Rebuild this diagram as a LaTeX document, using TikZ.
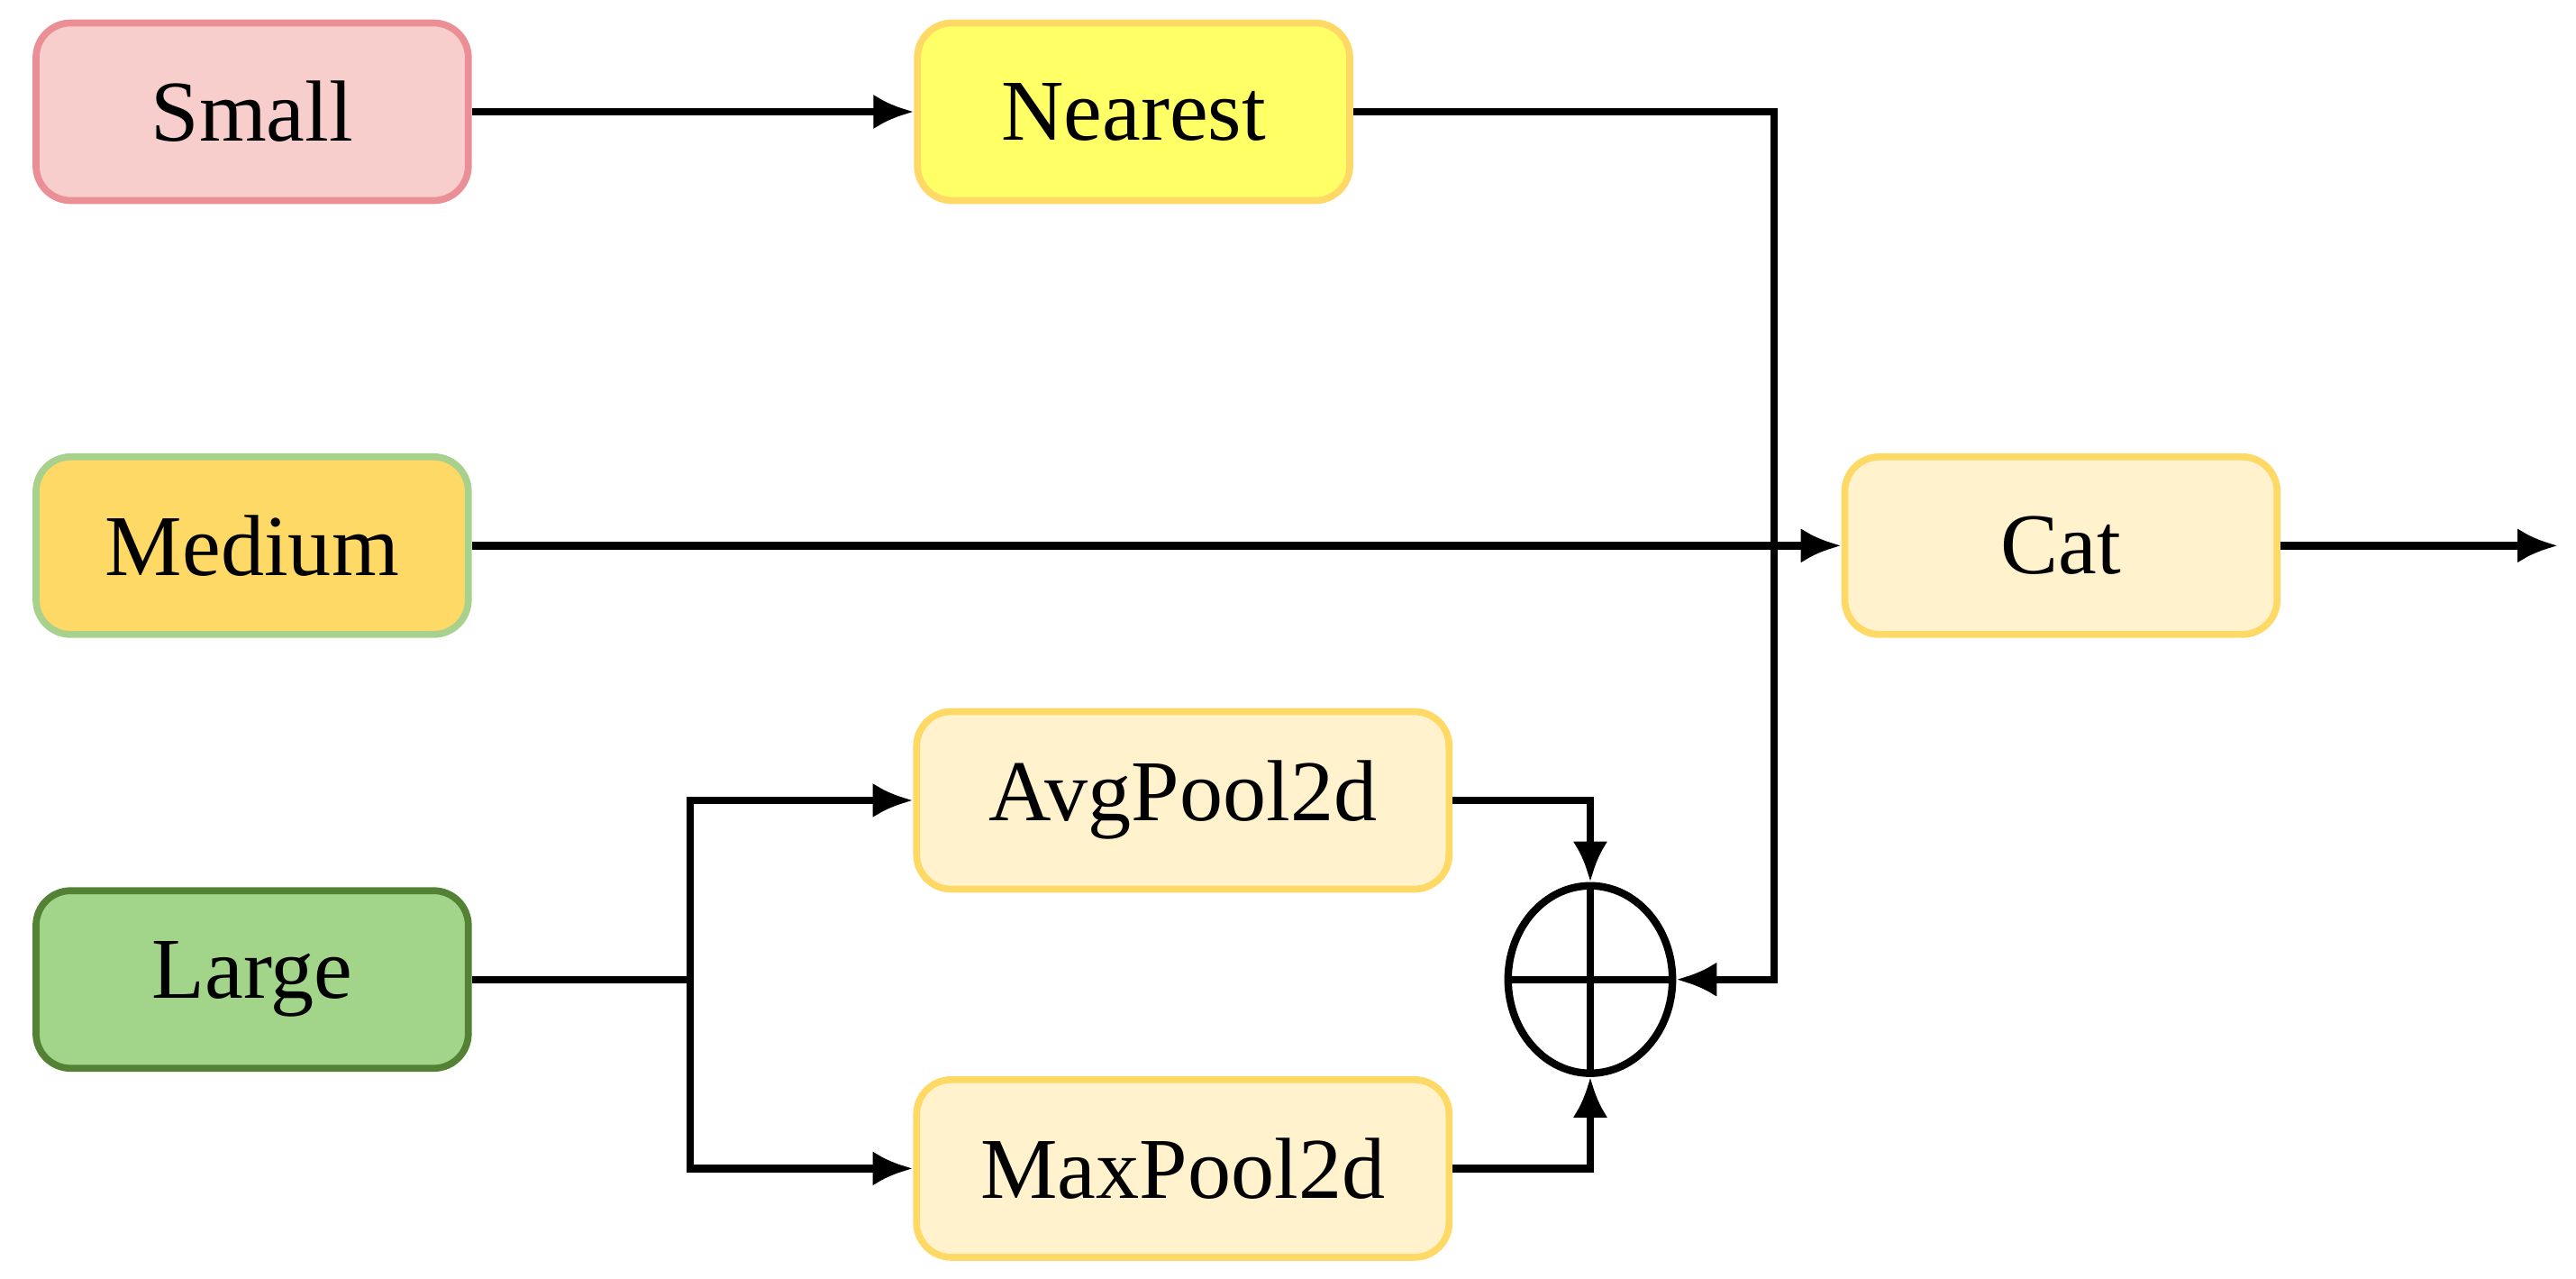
\documentclass[tikz,border=0pt]{standalone}
\usepackage{fontspec}
\setmainfont{Liberation Serif}
\usetikzlibrary{arrows.meta,shapes.geometric}
\definecolor{sf}{HTML}{F8CECC}\definecolor{sd}{HTML}{EA8F95}
\definecolor{nf}{HTML}{FFFF66}\definecolor{nd}{HTML}{FFD966}
\definecolor{mf}{HTML}{FFD966}\definecolor{md}{HTML}{A9D18E}
\definecolor{lf}{HTML}{A2D48A}\definecolor{ld}{HTML}{548235}
\definecolor{cf}{HTML}{FFF2CC}
\begin{document}
\begin{tikzpicture}[x=0.01cm,y=-0.01cm,
 box/.style={rounded corners=6pt,line width=1.2pt,minimum height=1.08cm,inner sep=0pt,font=\fontsize{15}{18}\selectfont},
 w1/.style={minimum width=2.63cm}, w2/.style={minimum width=3.24cm},
 ln/.style={line width=1.3pt,-{Latex[length=7pt,width=6pt]}},
 pl/.style={line width=1.3pt}]
\useasboundingbox (0,0) rectangle (1568,778);
\node[box,w1,fill=sf,draw=sd] (s) at (153.5,68) {Small};
\node[box,w1,fill=nf,draw=nd] (n) at (690,68) {Nearest};
\node[box,w1,fill=mf,draw=md] (m) at (153.5,332) {Medium};
\node[box,w1,fill=cf,draw=nd] (c) at (1254.5,332) {Cat};
\node[box,w2,fill=cf,draw=nd] (a) at (720,487) {AvgPool2d};
\node[box,w2,fill=cf,draw=nd] (x) at (720,711) {MaxPool2d};
\node[box,w1,fill=lf,draw=ld] (l) at (153.5,596) {Large};
\node[ellipse,draw,line width=1.3pt,minimum width=1.0cm,minimum height=1.14cm,inner sep=0pt] (p) at (968,596) {};
\draw[pl] (p.north)--(p.south) (p.west)--(p.east);
\coordinate (out) at (1557,332);
\coordinate (br) at (420,596);
\draw[ln] (s) -- (n);
\draw[ln] (n.east) -| (1080,596) -- (p.east);
\draw[ln] (m) -- (c);
\draw[ln] (c) -- (out);
\draw[pl] (l) -- (br);
\draw[ln] (br) |- (a.west);
\draw[ln] (br) |- (x.west);
\draw[ln] (a.east) -| (p.north);
\draw[ln] (x.east) -| (p.south);
\end{tikzpicture}
\end{document}
